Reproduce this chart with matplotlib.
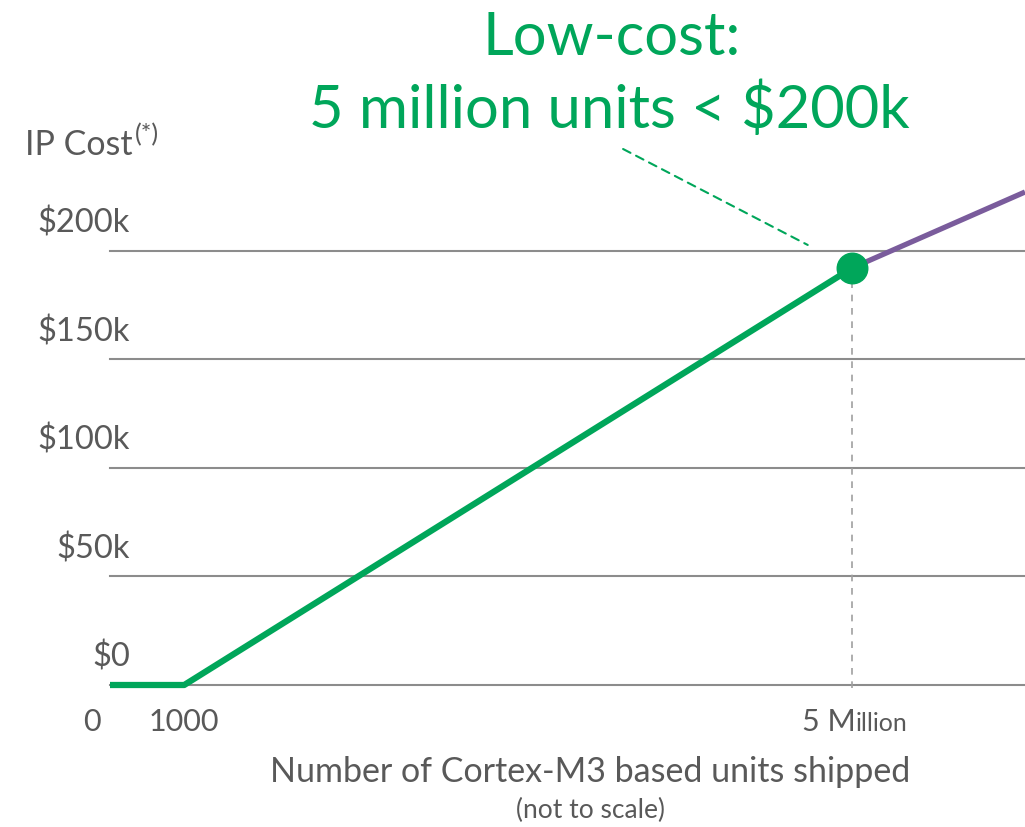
import matplotlib.pyplot as plt

plt.rcParams['font.family'] = ['Lato', 'DejaVu Sans']

# data (x axis is not to scale: positions are nominal slots)
y_ticks = [0, 50, 100, 150, 200]
y_labels = ['$0', '$50k', '$100k', '$150k', '$200k']
x_end = 12.33
low_x = [0, 1, 10]          # 0, 1000, 5 million
low_y = [0, 0, 192]
high_x = [10, x_end]
high_y = [192, 227]

green = '#00a65a'
purple = '#7a5c9c'
grey_txt = '#595959'
grid_col = '#8c8c8c'

W, H = 1025, 827
fig = plt.figure(figsize=(W / 100, H / 100), dpi=100)
ax = fig.add_axes([110 / W, (H - 685) / H, 915 / W, (685 - 192) / H])
ax.set_xlim(0, x_end)
ax.set_ylim(0, 227)
ax.axis('off')

# horizontal grid lines
for v in y_ticks:
    ax.plot([0, x_end], [v, v], color=grid_col, lw=1.5, clip_on=False, zorder=1)

# y labels sit above each line
for v, lbl in zip(y_ticks, y_labels):
    ax.annotate(lbl, xy=(0, v), xytext=(20, 18), textcoords='offset pixels',
                ha='right', va='baseline', fontsize=23.5, color=grey_txt)

# cost lines
ax.plot(low_x, low_y, color=green, lw=4.5, clip_on=False, zorder=3,
        solid_capstyle='butt')
ax.plot(high_x, high_y, color=purple, lw=3.8, clip_on=False, zorder=2,
        solid_capstyle='butt')
ax.plot([low_x[-1]], [low_y[-1]], 'o', color=green, ms=22, clip_on=False, zorder=4)

# dashed drop line at 5 million
ax.plot([low_x[-1], low_x[-1]], [low_y[-1], -3], color='#a0a0a0', lw=1.2,
        ls=(0, (4, 4)), clip_on=False, zorder=1)

# callout line to the title
ax.annotate('', xy=(low_x[-1], low_y[-1]), xytext=(-229, 119),
            textcoords='offset pixels',
            arrowprops=dict(arrowstyle='-', color=green, lw=1.5,
                            linestyle=(0, (4, 3)), shrinkA=0, shrinkB=36))

# x tick labels
ax.annotate('0', xy=(0, 0), xytext=(-18, -46), textcoords='offset pixels',
            ha='center', va='baseline', fontsize=22, color=grey_txt)
ax.annotate('1000', xy=(low_x[1], 0), xytext=(0, -46), textcoords='offset pixels',
            ha='center', va='baseline', fontsize=22, color=grey_txt)
ax.annotate('5 M', xy=(low_x[2], 0), xytext=(4, -46), textcoords='offset pixels',
            ha='right', va='baseline', fontsize=22, color=grey_txt)
ax.annotate('illion', xy=(low_x[2], 0), xytext=(4, -46), textcoords='offset pixels',
            ha='left', va='baseline', fontsize=18, color=grey_txt)

# axis titles
fig.text(590 / W, 1 - 772 / H, 'Number of Cortex-M3 based units shipped',
         ha='center', va='center', fontsize=24.5, color=grey_txt)
fig.text(590 / W, 1 - 810 / H, '(not to scale)',
         ha='center', va='center', fontsize=19, color=grey_txt)
ip = fig.text(25 / W, 1 - 145 / H, 'IP Cost', ha='left', va='center',
              fontsize=24.5, color=grey_txt)
fig.add_artist(plt.Annotation('(*)', xy=(1, 1), xycoords=ip, xytext=(2, 6),
                              textcoords='offset pixels', ha='left', va='top',
                              fontsize=18, color=grey_txt))

# headline
fig.text(612 / W, 1 - 38 / H, 'Low-cost:', ha='center', va='center',
         fontsize=43, color=green)
fig.text(609 / W, 1 - 110 / H, '5 million units < $200k', ha='center',
         va='center', fontsize=43, color=green)

fig.savefig('out.png', dpi=100)
